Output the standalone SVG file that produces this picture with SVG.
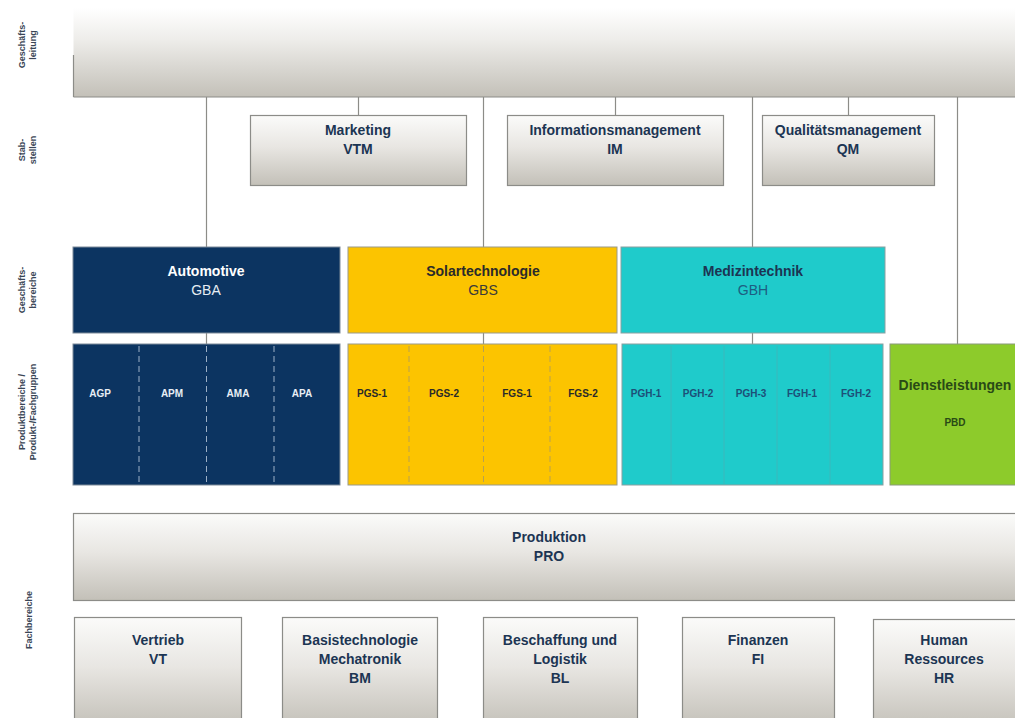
<svg xmlns="http://www.w3.org/2000/svg" width="1015" height="718" viewBox="0 0 1015 718">
<defs>
<linearGradient id="g" x1="0" y1="0" x2="0" y2="1">
<stop offset="0" stop-color="#fbfbfa"/>
<stop offset="0.45" stop-color="#e8e6e2"/>
<stop offset="1" stop-color="#c3c0b8"/>
</linearGradient>
<linearGradient id="gt" x1="0" y1="0" x2="0" y2="1">
<stop offset="0" stop-color="#ffffff"/>
<stop offset="0.35" stop-color="#eeedea"/>
<stop offset="1" stop-color="#c3c0b8"/>
</linearGradient>
<style>
.gb{fill:url(#g);stroke:#8c8c88;stroke-width:1.2}
.t{font-family:"Liberation Sans",Arial,sans-serif;font-weight:bold;font-size:14px;fill:#1c3553;text-anchor:middle}
.n{font-weight:normal}
.s{font-family:"Liberation Sans",Arial,sans-serif;font-weight:bold;font-size:10px;text-anchor:middle}
.lab{font-family:"Liberation Sans",Arial,sans-serif;font-weight:bold;font-size:9px;fill:#3a4656;text-anchor:middle}
.c{stroke:#8c8c88;stroke-width:1.2;fill:none}
.dw{stroke:#9db0c8;stroke-width:1;stroke-dasharray:6,4}
.dy{stroke:#b8a050;stroke-width:1;stroke-dasharray:6,4}
.dc{stroke:#3cb8bb;stroke-width:1}
</style>
</defs>
<rect width="1015" height="718" fill="#ffffff"/>

<g id="side-labels">
<text class="lab" transform="translate(25,45) rotate(-90)">Geschäfts-</text>
<text class="lab" transform="translate(36,45) rotate(-90)">leitung</text>
<text class="lab" transform="translate(25,150) rotate(-90)">Stab-</text>
<text class="lab" transform="translate(36,150) rotate(-90)">stellen</text>
<text class="lab" transform="translate(25,290) rotate(-90)">Geschäfts-</text>
<text class="lab" transform="translate(36,290) rotate(-90)">bereiche</text>
<text class="lab" transform="translate(25,412) rotate(-90)">Produktbereiche /</text>
<text class="lab" transform="translate(36,412) rotate(-90)">Produkt-/Fachgruppen</text>
<text class="lab" transform="translate(32,620) rotate(-90)">Fachbereiche</text>
</g>

<g id="connectors">
<line class="c" x1="206.5" y1="97" x2="206.5" y2="344"/>
<line class="c" x1="358.5" y1="97" x2="358.5" y2="115"/>
<line class="c" x1="483.5" y1="97" x2="483.5" y2="344"/>
<line class="c" x1="615.5" y1="97" x2="615.5" y2="115"/>
<line class="c" x1="752.5" y1="97" x2="752.5" y2="344"/>
<line class="c" x1="848.5" y1="97" x2="848.5" y2="115"/>
<line class="c" x1="957.5" y1="97" x2="957.5" y2="344"/>
</g>

<g id="geschaeftsleitung">
<rect x="73.5" y="8" width="960" height="89" fill="url(#gt)"/>
<line class="c" x1="73.5" y1="55" x2="73.5" y2="97"/>
<line class="c" x1="73.5" y1="97" x2="1015" y2="97"/>
</g>

<g id="marketing">
<rect class="gb" x="250.5" y="115.5" width="216" height="70"/>
<text class="t" x="358" y="135">Marketing</text>
<text class="t" x="358" y="154">VTM</text>
</g>
<g id="im">
<rect class="gb" x="507.5" y="115.5" width="216" height="70"/>
<text class="t" x="615" y="135">Informationsmanagement</text>
<text class="t" x="615" y="154">IM</text>
</g>
<g id="qm">
<rect class="gb" x="762.5" y="115.5" width="172" height="70"/>
<text class="t" x="848" y="135">Qualitätsmanagement</text>
<text class="t" x="848" y="154">QM</text>
</g>

<g id="automotive">
<rect x="73" y="247" width="267" height="86" fill="#0c3461" stroke="#7d8a99" stroke-width="1"/>
<text class="t" x="206" y="276" style="fill:#ffffff">Automotive</text>
<text class="t n" x="206" y="295" style="fill:#e6ecf3">GBA</text>
</g>
<g id="solar">
<rect x="348" y="247" width="269" height="86" fill="#fcc400" stroke="#9a9a8a" stroke-width="1"/>
<text class="t" x="483" y="276" style="fill:#2a2a2a">Solartechnologie</text>
<text class="t n" x="483" y="295" style="fill:#3a3a3a">GBS</text>
</g>
<g id="medizin">
<rect x="621" y="247" width="264" height="86" fill="#1fcbcb" stroke="#8aa0a0" stroke-width="1"/>
<text class="t" x="753" y="276">Medizintechnik</text>
<text class="t n" x="753" y="295" style="fill:#1d5d82">GBH</text>
</g>

<g id="automotive-pg">
<rect x="73" y="344" width="267" height="141" fill="#0c3461" stroke="#7d8a99" stroke-width="1"/>
<line class="dw" x1="139" y1="346" x2="139" y2="484"/>
<line class="dw" x1="206.5" y1="346" x2="206.5" y2="484"/>
<line class="dw" x1="274" y1="346" x2="274" y2="484"/>
<text class="s" x="100" y="397" fill="#e8eef5">AGP</text>
<text class="s" x="172" y="397" fill="#e8eef5">APM</text>
<text class="s" x="238" y="397" fill="#e8eef5">AMA</text>
<text class="s" x="302" y="397" fill="#e8eef5">APA</text>
</g>
<g id="solar-pg">
<rect x="348" y="344" width="269" height="141" fill="#fcc400" stroke="#9a9a8a" stroke-width="1"/>
<line class="dy" x1="409" y1="346" x2="409" y2="484"/>
<line class="dy" x1="483.5" y1="346" x2="483.5" y2="484"/>
<line class="dy" x1="550" y1="346" x2="550" y2="484"/>
<text class="s" x="372" y="397" fill="#2a2a2a">PGS-1</text>
<text class="s" x="444" y="397" fill="#2a2a2a">PGS-2</text>
<text class="s" x="517" y="397" fill="#2a2a2a">FGS-1</text>
<text class="s" x="583" y="397" fill="#2a2a2a">FGS-2</text>
</g>
<g id="medizin-pg">
<rect x="622" y="344" width="261" height="141" fill="#1fcbcb" stroke="#8aa0a0" stroke-width="1"/>
<line class="dc" x1="671" y1="346" x2="671" y2="484"/>
<line class="dc" x1="724" y1="346" x2="724" y2="484"/>
<line class="dc" x1="777" y1="346" x2="777" y2="484"/>
<line class="dc" x1="830" y1="346" x2="830" y2="484"/>
<text class="s" x="646" y="397" fill="#1d4f78">PGH-1</text>
<text class="s" x="698" y="397" fill="#1d4f78">PGH-2</text>
<text class="s" x="751" y="397" fill="#1d4f78">PGH-3</text>
<text class="s" x="802" y="397" fill="#1d4f78">FGH-1</text>
<text class="s" x="856" y="397" fill="#1d4f78">FGH-2</text>
</g>
<g id="dienstleistungen">
<rect x="890" y="344" width="140" height="141" fill="#8dcb2b" stroke="#8a9a7a" stroke-width="1"/>
<text class="t" x="955" y="390" style="fill:#294a16">Dienstleistungen</text>
<text class="s" x="955" y="426" fill="#294a16">PBD</text>
</g>

<g id="produktion">
<rect class="gb" x="73.5" y="513.5" width="960" height="87"/>
<text class="t" x="549" y="542">Produktion</text>
<text class="t" x="549" y="561">PRO</text>
</g>

<g id="vertrieb">
<rect class="gb" x="74.5" y="617.5" width="167" height="110"/>
<text class="t" x="158" y="645">Vertrieb</text>
<text class="t" x="158" y="664">VT</text>
</g>
<g id="basis">
<rect class="gb" x="282.5" y="617.5" width="155" height="110"/>
<text class="t" x="360" y="645">Basistechnologie</text>
<text class="t" x="360" y="664">Mechatronik</text>
<text class="t" x="360" y="683">BM</text>
</g>
<g id="beschaffung">
<rect class="gb" x="483.5" y="617.5" width="154" height="110"/>
<text class="t" x="560" y="645">Beschaffung und</text>
<text class="t" x="560" y="664">Logistik</text>
<text class="t" x="560" y="683">BL</text>
</g>
<g id="finanzen">
<rect class="gb" x="682.5" y="617.5" width="152" height="110"/>
<text class="t" x="758" y="645">Finanzen</text>
<text class="t" x="758" y="664">FI</text>
</g>
<g id="hr">
<rect class="gb" x="873.5" y="619.5" width="160" height="110"/>
<text class="t" x="944" y="645">Human</text>
<text class="t" x="944" y="664">Ressources</text>
<text class="t" x="944" y="683">HR</text>
</g>
</svg>
